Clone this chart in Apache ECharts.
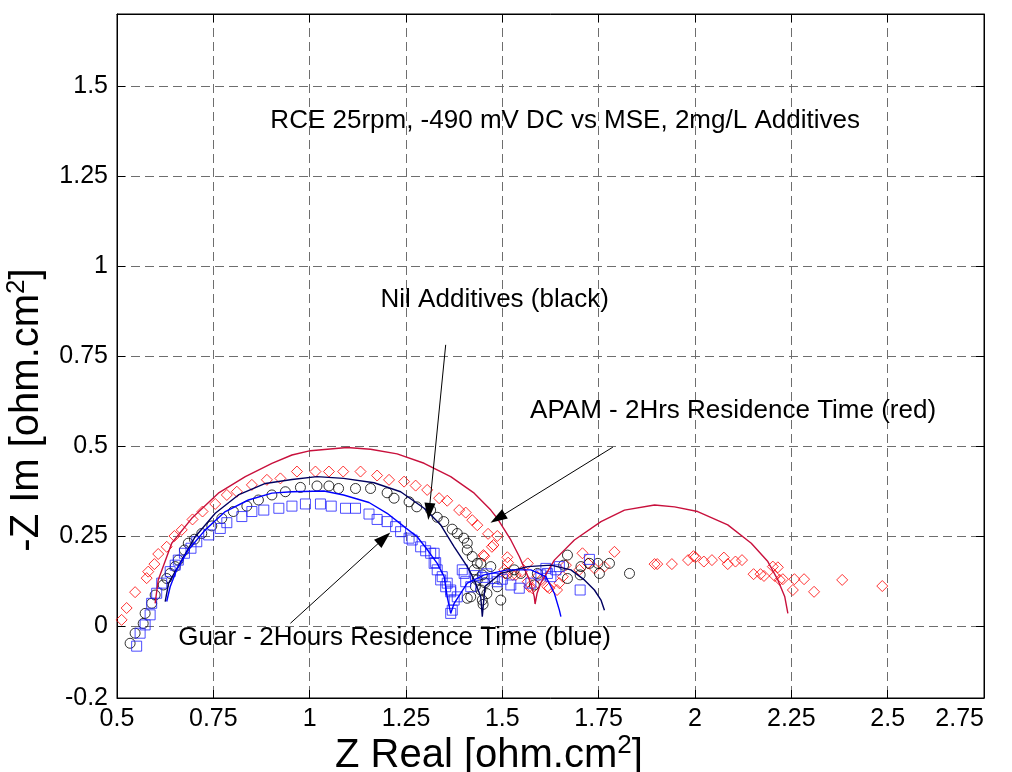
<!DOCTYPE html>
<html><head><meta charset="utf-8">
<script src="https://cdn.jsdelivr.net/npm/echarts@6/dist/echarts.min.js"></script>
<style>html,body{margin:0;padding:0;background:#fff}#c{width:1012px;height:772px}</style>
</head><body><div id="c"></div>
<script>
// ---- data (Z real, -Z im) ----
const apamPts = [[0.499,-0.005],[0.512,0.017],[0.525,0.05],[0.547,0.094],[0.577,0.133],[0.581,0.151],[0.597,0.172],[0.607,0.2],[0.629,0.22],[0.649,0.25],[0.668,0.267],[0.696,0.296],[0.722,0.318],[0.755,0.339],[0.785,0.364],[0.811,0.373],[0.85,0.392],[0.889,0.406],[0.924,0.41],[0.967,0.429],[1.015,0.429],[1.05,0.429],[1.087,0.429],[1.132,0.429],[1.175,0.418],[1.206,0.406],[1.245,0.401],[1.275,0.39],[1.305,0.378],[1.336,0.355],[1.357,0.348],[1.388,0.322],[1.405,0.315],[1.422,0.294],[1.435,0.28],[1.463,0.256],[1.487,0.25],[1.477,0.225],[1.473,0.22],[1.451,0.197],[1.453,0.194],[1.513,0.191],[1.515,0.176],[1.505,0.156],[1.535,0.142],[1.566,0.174],[1.55,0.151],[1.527,0.142],[1.507,0.146],[1.566,0.123],[1.57,0.109],[1.578,0.105],[1.591,0.137],[1.6,0.128],[1.617,0.109],[1.622,0.105],[1.642,0.1],[1.648,0.119],[1.657,0.137],[1.665,0.169],[1.708,0.202],[1.7,0.156],[1.722,0.174],[1.739,0.16],[1.765,0.165],[1.791,0.206],[1.895,0.172],[1.902,0.172],[1.94,0.172],[1.982,0.183],[1.996,0.194],[2.001,0.191],[2.023,0.179],[2.044,0.183],[2.075,0.19],[2.085,0.172],[2.105,0.179],[2.122,0.183],[2.152,0.144],[2.17,0.144],[2.179,0.139],[2.202,0.165],[2.215,0.163],[2.207,0.139],[2.22,0.128],[2.228,0.13],[2.258,0.13],[2.254,0.1],[2.283,0.13],[2.309,0.095],[2.382,0.128],[2.486,0.111]];
const nilPts = [[0.534,-0.048],[0.547,-0.02],[0.568,0.007],[0.573,0.035],[0.59,0.063],[0.599,0.086],[0.62,0.114],[0.629,0.132],[0.638,0.146],[0.651,0.165],[0.659,0.183],[0.675,0.211],[0.685,0.23],[0.701,0.241],[0.72,0.257],[0.746,0.278],[0.772,0.299],[0.802,0.318],[0.837,0.333],[0.867,0.35],[0.902,0.364],[0.937,0.373],[0.976,0.385],[1.019,0.389],[1.05,0.389],[1.075,0.382],[1.119,0.382],[1.158,0.382],[1.201,0.37],[1.219,0.355],[1.258,0.345],[1.278,0.331],[1.314,0.322],[1.331,0.302],[1.348,0.29],[1.37,0.269],[1.383,0.257],[1.4,0.244],[1.409,0.23],[1.409,0.211],[1.422,0.193],[1.435,0.174],[1.444,0.174],[1.47,0.165],[1.427,0.156],[1.448,0.142],[1.435,0.128],[1.455,0.12],[1.43,0.11],[1.46,0.09],[1.444,0.1],[1.418,0.081],[1.448,0.072],[1.45,0.06],[1.409,0.077],[1.496,0.072],[1.487,0.109],[1.513,0.146],[1.531,0.156],[1.548,0.146],[1.591,0.146],[1.583,0.114],[1.669,0.197],[1.669,0.132],[1.659,0.169],[1.704,0.165],[1.702,0.142],[1.726,0.174],[1.748,0.174],[1.752,0.146],[1.778,0.174],[1.83,0.146]];
const guarPts = [[0.551,-0.056],[0.56,-0.02],[0.573,0.003],[0.586,0.031],[0.59,0.063],[0.603,0.091],[0.616,0.119],[0.638,0.151],[0.651,0.169],[0.659,0.183],[0.675,0.202],[0.692,0.216],[0.707,0.234],[0.738,0.253],[0.768,0.271],[0.785,0.287],[0.824,0.304],[0.85,0.318],[0.881,0.322],[0.92,0.327],[0.954,0.333],[0.989,0.339],[1.028,0.339],[1.056,0.333],[1.093,0.327],[1.119,0.327],[1.154,0.311],[1.175,0.296],[1.201,0.29],[1.223,0.276],[1.236,0.262],[1.258,0.244],[1.266,0.239],[1.288,0.22],[1.301,0.209],[1.314,0.202],[1.327,0.176],[1.331,0.156],[1.344,0.137],[1.357,0.119],[1.366,0.1],[1.323,0.202],[1.323,0.174],[1.34,0.128],[1.353,0.109],[1.366,0.095],[1.375,0.072],[1.37,0.044],[1.366,0.035],[1.383,0.081],[1.401,0.146],[1.405,0.123],[1.418,0.109],[1.396,0.156],[1.43,0.14],[1.45,0.135],[1.46,0.145],[1.479,0.132],[1.487,0.123],[1.5,0.13],[1.522,0.114],[1.544,0.105],[1.574,0.119],[1.6,0.142],[1.617,0.146],[1.613,0.16],[1.626,0.137],[1.639,0.156],[1.648,0.165],[1.726,0.185],[1.702,0.1]];
const apamFit = [[0.599,0.063],[0.607,0.128],[0.642,0.23],[0.694,0.299],[0.763,0.369],[0.833,0.415],[0.902,0.452],[0.954,0.475],[1.002,0.487],[1.097,0.496],[1.158,0.491],[1.227,0.478],[1.297,0.452],[1.366,0.415],[1.427,0.369],[1.47,0.322],[1.487,0.299],[1.522,0.239],[1.544,0.193],[1.561,0.151],[1.574,0.119],[1.583,0.081],[1.585,0.061],[1.59,0.09],[1.6,0.12],[1.635,0.183],[1.687,0.239],[1.756,0.29],[1.817,0.322],[1.895,0.336],[1.947,0.331],[2.007,0.318],[2.085,0.281],[2.146,0.23],[2.189,0.179],[2.215,0.128],[2.233,0.081],[2.241,0.035]];
const nilFit = [[0.625,0.068],[0.634,0.119],[0.668,0.183],[0.703,0.248],[0.755,0.313],[0.815,0.364],[0.885,0.396],[0.954,0.407],[1.019,0.415],[1.088,0.41],[1.167,0.398],[1.236,0.373],[1.297,0.327],[1.34,0.281],[1.375,0.22],[1.409,0.165],[1.427,0.128],[1.444,0.081],[1.448,0.026],[1.455,0.11],[1.496,0.146],[1.566,0.165],[1.626,0.169],[1.678,0.156],[1.713,0.128],[1.739,0.1],[1.756,0.072],[1.765,0.044]];
const guarFit = [[0.629,0.068],[0.638,0.109],[0.655,0.156],[0.685,0.211],[0.729,0.267],[0.781,0.318],[0.841,0.35],[0.902,0.369],[0.954,0.373],[1.037,0.375],[1.088,0.364],[1.154,0.343],[1.201,0.313],[1.245,0.276],[1.279,0.248],[1.306,0.211],[1.331,0.174],[1.349,0.137],[1.357,0.081],[1.366,0.035],[1.375,0.063],[1.409,0.119],[1.453,0.142],[1.513,0.156],[1.574,0.156],[1.613,0.137],[1.635,0.091],[1.648,0.044],[1.652,0.026]];
// annotations: text anchors (left, middle) and arrows [tail, head] in data units
const titleText = 'RCE 25rpm, -490 mV DC vs MSE, 2mg/L Additives';
const notes = [
  {text: titleText, at: [0.898, 1.397]},
  {text: 'Nil Additives (black)', at: [1.184, 0.9]},
  {text: 'APAM - 2Hrs Residence Time (red)', at: [1.572, 0.592]},
  {text: 'Guar - 2Hours Residence Time (blue)', at: [0.659, -0.039]}
];
const arrows = [
  [[1.353, 0.781], [1.31, 0.318]],
  [[1.787, 0.497], [1.488, 0.299]],
  [[0.95, 0.0075], [1.193, 0.244]]
];
const xName = 'Z Real [ohm.cm{s|2}]';
const yName = '-Z Im [ohm.cm{s|2}]';
const xMin = 0.5, xMax = 2.75, xStep = 0.25;
const yMin = -0.2, yMax = 1.7, yStep = 0.25;

const FONT = '"Liberation Sans", Arial, Helvetica, sans-serif';
const chart = echarts.init(document.getElementById('c'));
const grid = {show: true, lineStyle: {color: '#6e6e6e', type: [9, 5], width: 1}};
const tick = {inside: true, length: 8, lineStyle: {color: '#000', width: 1}};
const axLine = {show: true, onZero: false, lineStyle: {color: '#000', width: 1}};
const lab = {color: '#000', fontSize: 25, fontFamily: FONT};
function hollow(color) { return {color: 'rgba(0,0,0,0)', borderColor: color, borderWidth: 1}; }

chart.setOption({
  animation: false,
  backgroundColor: '#fff',
  grid: {left: 117, right: 28, top: 14, bottom: 74, show: true, borderColor: '#000', borderWidth: 1},
  xAxis: [
    {type: 'value', min: xMin, max: xMax, interval: xStep, axisLine: axLine, axisTick: tick,
     axisLabel: Object.assign({margin: 9, alignMaxLabel: 'right'}, lab), splitLine: grid},
    {type: 'value', position: 'top', min: xMin, max: xMax, interval: xStep, axisLine: axLine, axisTick: tick,
     axisLabel: {show: false}, splitLine: {show: false}}
  ],
  yAxis: [
    {type: 'value', min: yMin, max: yMax, minInterval: yStep, maxInterval: yStep, splitNumber: 8,
     axisLine: axLine, axisTick: tick,
     axisLabel: Object.assign({margin: 9, showMaxLabel: false, showMinLabel: true}, lab), splitLine: grid},
    {type: 'value', position: 'right', min: yMin, max: yMax, minInterval: yStep, maxInterval: yStep, splitNumber: 8,
     axisLine: axLine, axisTick: tick, axisLabel: {show: false}, splitLine: {show: false}}
  ],
  series: [
    {type: 'scatter', name: 'APAM', data: apamPts, symbol: 'diamond', symbolSize: [11, 11], itemStyle: hollow('#ff0000'), silent: true},
    {type: 'scatter', name: 'Nil', data: nilPts, symbol: 'circle', symbolSize: 10, itemStyle: hollow('#000000'), silent: true},
    {type: 'scatter', name: 'Guar', data: guarPts, symbol: 'rect', symbolSize: 10, itemStyle: hollow('#2020ff'), silent: true},
    {type: 'line', data: apamFit, showSymbol: false, lineStyle: {color: '#c8103c', width: 1.4}, silent: true},
    {type: 'line', data: nilFit, showSymbol: false, lineStyle: {color: '#000060', width: 1.4}, silent: true},
    {type: 'line', data: guarFit, showSymbol: false, lineStyle: {color: '#0000ff', width: 1.4}, silent: true,
     markLine: {silent: true, symbol: ['none', 'triangle'], symbolSize: [11, 17], animation: false,
       lineStyle: {color: '#000', width: 1, type: 'solid'}, label: {show: false}, emphasis: {disabled: true},
       data: arrows.map(a => [{coord: a[0]}, {coord: a[1]}])}}
  ]
});

const gfx = notes.map(n => {
  const p = chart.convertToPixel({seriesIndex: 0}, n.at);
  return {type: 'text', left: p[0], top: p[1] - 15, silent: true,
    style: {text: n.text, fill: '#000', font: '26px ' + FONT}};
});
const supStyle = {s: {fontSize: 26, fontFamily: FONT, padding: [0, 0, 20, 0], fill: '#000'}};
gfx.push({type: 'text', left: 335, top: 733, silent: true,
  style: {text: xName, fill: '#000', font: '40px ' + FONT, rich: supStyle}});
gfx.push({type: 'text', x: 27, y: 410, rotation: Math.PI / 2, silent: true,
  style: {text: yName, fill: '#000', font: '40px ' + FONT, align: 'center', verticalAlign: 'middle', rich: supStyle}});
chart.setOption({graphic: gfx});
</script></body></html>
